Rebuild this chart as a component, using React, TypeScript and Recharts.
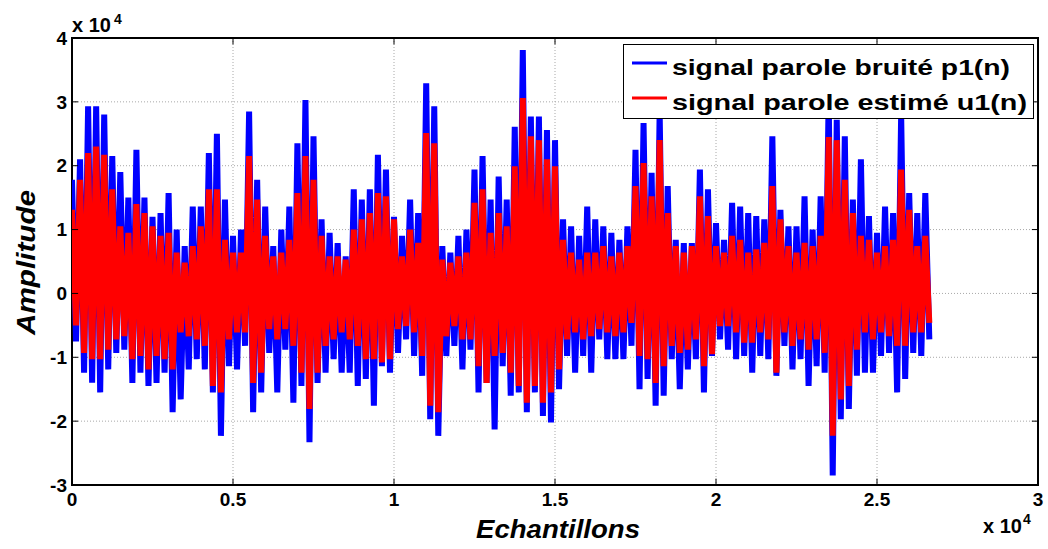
import React from "react";
import {
  ComposedChart,
  Line,
  XAxis,
  YAxis,
  CartesianGrid,
  ReferenceArea,
  ReferenceLine,
  Legend,
} from "recharts";

// crêtes, en unités de 10^4, une crête tous les 250 échantillons
const bruitHaut = [
  1.78, 2.1, 2.93, 2.93, 2.8, 2.15, 1.9, 1.5, 2.25, 1.5,
  1.2, 1.26, 1.57, 1.0, 0.74, 1.36, 1.36, 2.2, 2.5, 1.47,
  0.9, 1.0, 2.85, 1.78, 1.36, 0.74, 1.0, 1.36, 2.35, 3.03,
  2.46, 1.16, 0.95, 0.79, 0.58, 1.63, 1.47, 1.63, 2.17, 1.94,
  1.2, 0.9, 1.47, 1.26, 3.29, 2.93, 0.74, 0.64, 0.9, 1.0,
  1.94, 2.15, 1.47, 1.83, 1.47, 2.61, 3.81, 2.77, 2.77, 2.56,
  2.4, 1.16, 1.05, 0.9, 1.36, 1.16, 1.05, 0.95, 0.84, 1.05,
  2.25, 2.67, 1.89, 2.85, 1.68, 0.84, 0.79, 0.79, 1.94, 1.63,
  1.1, 0.84, 1.42, 1.36, 1.26, 1.21, 1.16, 2.46, 1.31, 1.05,
  1.05, 1.52, 1.0, 1.52, 3.1, 2.72, 2.46, 1.47, 2.1, 1.21,
  0.95, 1.36, 1.26, 2.8, 1.57, 1.26, 1.57,
];
const bruitBas = [
  -0.75, -1.24, -1.4, -1.55, -1.19, -0.93, -0.88, -1.4, -1.24, -1.45,
  -1.4, -1.24, -1.86, -1.66, -1.19, -1.03, -1.19, -1.55, -2.23, -1.14,
  -1.19, -0.82, -1.86, -1.55, -0.93, -1.55, -0.88, -1.71, -1.45, -2.33,
  -1.4, -1.24, -1.03, -1.24, -1.24, -1.45, -1.34, -1.76, -1.14, -1.24,
  -0.93, -0.72, -0.98, -1.29, -1.97, -2.23, -0.98, -0.82, -1.19, -0.88,
  -1.55, -1.4, -2.13, -1.14, -1.6, -1.55, -1.86, -1.55, -1.92, -2.02,
  -1.5, -0.98, -1.24, -0.98, -1.24, -0.72, -1.03, -1.03, -1.03, -0.82,
  -1.5, -1.34, -1.76, -1.6, -1.03, -1.5, -1.19, -1.03, -1.55, -0.98,
  -0.72, -0.88, -1.03, -0.98, -1.24, -0.98, -1.03, -1.29, -0.82, -1.19,
  -1.03, -1.45, -1.14, -1.24, -2.85, -1.97, -1.81, -1.29, -1.24, -1.24,
  -0.98, -0.93, -1.55, -1.34, -0.93, -0.98, -0.72,
];
const estimeHaut = [
  1.31, 1.78, 2.2, 2.3, 2.17, 1.63, 1.05, 0.95, 1.4, 1.26,
  1.05, 0.9, 0.95, 0.64, 0.48, 0.74, 1.05, 1.63, 1.63, 0.84,
  0.64, 0.64, 2.15, 1.47, 0.9, 0.58, 0.64, 0.84, 1.57, 2.15,
  1.78, 0.9, 0.58, 0.58, 0.53, 1.0, 1.16, 1.26, 1.57, 1.52,
  1.16, 0.58, 1.0, 0.79, 2.51, 2.35, 0.53, 0.48, 0.58, 0.64,
  1.42, 1.63, 0.95, 1.26, 1.05, 1.99, 3.06, 2.46, 2.4, 2.1,
  1.99, 0.84, 0.64, 0.53, 0.64, 0.64, 0.74, 0.58, 0.64, 0.74,
  1.68, 2.04, 1.52, 2.4, 1.26, 0.74, 0.64, 0.74, 1.52, 1.21,
  0.74, 0.64, 0.9, 0.84, 0.64, 0.69, 0.79, 1.68, 1.16, 0.74,
  0.64, 0.79, 0.74, 0.9, 2.45, 2.4, 1.78, 1.26, 0.9, 0.84,
  0.64, 0.74, 0.84, 1.94, 1.31, 0.74, 0.9,
];
const estimeBas = [
  -0.5, -0.93, -1.03, -1.03, -0.88, -0.72, -0.67, -1.03, -0.98, -1.19,
  -0.98, -1.03, -1.19, -0.61, -0.67, -0.72, -0.82, -1.45, -1.55, -0.72,
  -0.61, -0.61, -1.4, -1.24, -0.56, -0.72, -0.56, -0.82, -1.24, -1.81,
  -1.24, -0.82, -0.72, -0.61, -0.72, -0.82, -1.03, -1.03, -1.08, -1.03,
  -0.56, -0.51, -0.61, -0.98, -1.76, -1.86, -0.67, -0.51, -0.72, -0.72,
  -1.14, -1.4, -0.98, -0.93, -1.24, -1.45, -1.71, -1.45, -1.71, -1.55,
  -1.19, -0.72, -0.61, -0.72, -0.67, -0.56, -0.61, -0.67, -0.61, -0.46,
  -0.98, -1.03, -1.4, -1.14, -0.82, -0.93, -0.88, -0.72, -1.14, -0.95,
  -0.51, -0.51, -0.61, -0.77, -0.77, -0.61, -0.72, -1.24, -0.61, -0.82,
  -0.72, -0.88, -0.72, -0.93, -2.23, -1.66, -1.45, -0.88, -0.61, -0.72,
  -0.61, -0.67, -0.82, -0.82, -0.61, -0.61, -0.46,
];

// une crête haute puis une crête basse, 125 échantillons plus loin
const PAS = 250;
const DEMI_PAS = 125;

const xTicks = [0, 5000, 10000, 15000, 20000, 25000, 30000];
const yTicks = [-3, -2, -1, 0, 1, 2, 3, 4];

const series = [
  { key: "bruit", label: "signal parole bruité p1(n)", color: "#0000ff", len: 338 },
  { key: "estime", label: "signal parole estimé u1(n)", color: "#ff0000", len: 355 },
];

const data = bruitHaut.flatMap((_, i) => [
  { n: i * PAS, bruit: bruitHaut[i], estime: estimeHaut[i] },
  { n: i * PAS + DEMI_PAS, bruit: bruitBas[i], estime: estimeBas[i] },
]);

const FONT = "'Liberation Sans', Arial, sans-serif";

const LegendBox = () => (
  <svg width={411} height={75} style={{ display: "block" }}>
    <rect x={0.5} y={0.5} width={410} height={74} fill="#fff" stroke="#000" strokeWidth={1} />
    {series.map((s, i) => (
      <g key={s.key}>
        <line x1={9} x2={44} y1={19 + i * 35} y2={19 + i * 35} stroke={s.color} strokeWidth={3} />
        <text
          x={49}
          y={31 + i * 35}
          fontFamily={FONT}
          fontWeight="bold"
          fontSize={22}
          textLength={s.len}
          lengthAdjust="spacingAndGlyphs"
          fill="#000"
        >
          {s.label}
        </text>
      </g>
    ))}
  </svg>
);

export default function App() {
  return (
    <div style={{ position: "absolute", left: 0, top: 0, width: 1048, height: 549, background: "#fff" }}>
      <ComposedChart
        width={1048}
        height={549}
        data={data}
        margin={{ top: 38, right: 10, bottom: 34, left: 32 }}
      >
        <CartesianGrid stroke="#a8a8a8" strokeDasharray="1 2" horizontalValues={yTicks} verticalValues={xTicks} />
        <XAxis
          dataKey="n"
          type="number"
          domain={[0, 30000]}
          ticks={xTicks}
          tickFormatter={(v: number) => String(v / 10000)}
          tick={{ fontFamily: FONT, fontWeight: "bold", fontSize: 19, fill: "#000" }}
          tickLine={false}
          tickSize={0}
          tickMargin={8}
          axisLine={false}
          height={30}
          allowDataOverflow
        />
        <YAxis
          type="number"
          domain={[-3, 4]}
          ticks={yTicks}
          tick={{ fontFamily: FONT, fontWeight: "bold", fontSize: 19, fill: "#000" }}
          tickLine={false}
          tickSize={0}
          tickMargin={5}
          axisLine={false}
          width={40}
          allowDataOverflow
        />
        <Line
          dataKey="bruit"
          type="linear"
          stroke="#0000ff"
          strokeWidth={6}
          dot={false}
          activeDot={false}
          isAnimationActive={false}
        />
        <Line
          dataKey="estime"
          type="linear"
          stroke="#ff0000"
          strokeWidth={6}
          dot={false}
          activeDot={false}
          isAnimationActive={false}
        />
        {xTicks.map((t) => (
          <ReferenceLine key={`xb${t}`} segment={[{ x: t, y: -3 }, { x: t, y: -2.9 }]} stroke="#000" strokeWidth={1} />
        ))}
        {xTicks.map((t) => (
          <ReferenceLine key={`xt${t}`} segment={[{ x: t, y: 3.9 }, { x: t, y: 4 }]} stroke="#000" strokeWidth={1} />
        ))}
        {yTicks.map((t) => (
          <ReferenceLine key={`yl${t}`} segment={[{ x: 0, y: t }, { x: 190, y: t }]} stroke="#000" strokeWidth={1} />
        ))}
        {yTicks.map((t) => (
          <ReferenceLine key={`yr${t}`} segment={[{ x: 29810, y: t }, { x: 30000, y: t }]} stroke="#000" strokeWidth={1} />
        ))}
        <ReferenceArea x1={0} x2={30000} y1={-3} y2={4} fill="none" stroke="#000" strokeWidth={2} />
        <Legend
          layout="vertical"
          align="center"
          verticalAlign="middle"
          content={() => <LegendBox />}
          wrapperStyle={{ position: "absolute", left: 623, top: 44, width: 411, height: 75 }}
        />
      </ComposedChart>
      <svg
        width={1048}
        height={549}
        style={{ position: "absolute", left: 0, top: 0, pointerEvents: "none" }}
      >
        <g fontFamily={FONT} fontWeight="bold" fill="#000">
          <text x={72} y={32} fontSize={20}>x 10</text>
          <text x={114} y={24} fontSize={14}>4</text>
          <text x={983} y={533} fontSize={20}>x 10</text>
          <text x={1023} y={524} fontSize={14}>4</text>
          <text
            x={476}
            y={538}
            fontSize={26}
            fontStyle="italic"
            textLength={164}
            lengthAdjust="spacingAndGlyphs"
          >
            Echantillons
          </text>
          <text
            transform="translate(35 335) rotate(-90)"
            fontSize={26}
            fontStyle="italic"
            textLength={145}
            lengthAdjust="spacingAndGlyphs"
          >
            Amplitude
          </text>
        </g>
      </svg>
    </div>
  );
}
